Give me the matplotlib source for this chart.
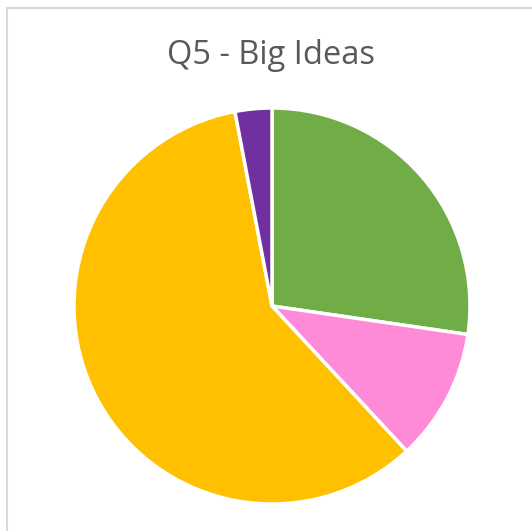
import matplotlib
matplotlib.use("Agg")
import matplotlib.pyplot as plt
from matplotlib.lines import Line2D

labels = ["A", "B", "C", "D"]
values = [27.3, 10.8, 58.9, 3.0]
colors = ["#70AD47", "#FF8AD8", "#FFC000", "#7030A0"]

W, H = 532, 531
fig = plt.figure(figsize=(W/100, H/100), dpi=100)
fig.patch.set_facecolor("white")

# frame (left and top visible)
fig.add_artist(Line2D([7/W, 7/W], [0, 1-8/H], color="#D9D9D9", lw=1.5, transform=fig.transFigure))
fig.add_artist(Line2D([7/W, 1], [1-8/H, 1-8/H], color="#D9D9D9", lw=1.5, transform=fig.transFigure))

cx, cy, r = 272, 306, 198
ax = fig.add_axes([(cx-r)/W, 1-(cy+r)/H, 2*r/W, 2*r/H])
ax.pie(values, colors=colors, startangle=90, counterclock=False,
       wedgeprops=dict(edgecolor="white", linewidth=2.5))
ax.set_aspect("equal")
ax.set_xlim(-1, 1); ax.set_ylim(-1, 1)
ax.axis("off")

fig.text(271/W, 1-55/H, "Q5 - Big Ideas", ha="center", va="center",
         fontsize=23.5, color="#595959", family="Open Sans")

fig.savefig("out.png", dpi=100, facecolor="white")
